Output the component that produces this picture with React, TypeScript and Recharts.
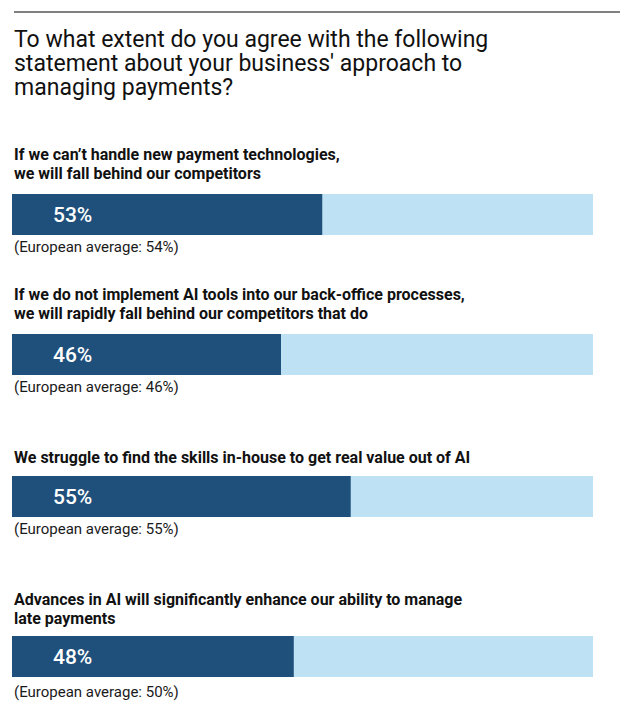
import React from "react";
import { BarChart, Bar, XAxis, YAxis, LabelList } from "recharts";

const titleLines = [
  "To what extent do you agree with the following",
  "statement about your business' approach to",
  "managing payments?",
];

const questions = [
  ["If we can\u2019t handle new payment technologies,", "we will fall behind our competitors"],
  ["If we do not implement AI tools into our back-office processes,", "we will rapidly fall behind our competitors that do"],
  ["We struggle to find the skills in-house to get real value out of AI"],
  ["Advances in AI will significantly enhance our ability to manage", "late payments"],
];

// bar lengths as drawn in the picture
const barValues = [53.4, 46.3, 58.3, 48.5];
const valueLabels = ["53%", "46%", "55%", "48%"];
const europeanAverages = ["54%", "46%", "55%", "50%"];

const DARK = "#1f507c";
const LIGHT = "#bfe1f4";
const FONT = "Roboto, 'Noto Sans', sans-serif";

// layout positions
const qTops = [145, 285, 448, 590];
const barTops = [194, 334, 476, 636];
const avgTops = [238, 378, 520, 683];
const BAR_H = 41;
const BAR_LEFT = 12;
const BAR_W = 581;

function Row({ i }: { i: number }) {
  const data = [{ name: "q" + i, value: barValues[i], label: valueLabels[i] }];
  return (
    <div style={{ position: "absolute", left: BAR_LEFT, top: barTops[i], width: BAR_W, height: BAR_H }}>
      <BarChart
        width={BAR_W}
        height={BAR_H}
        data={data}
        layout="vertical"
        margin={{ top: 0, right: 0, bottom: 0, left: 0 }}
        barCategoryGap={0}
      >
        <XAxis type="number" domain={[0, 100]} hide />
        <YAxis type="category" dataKey="name" hide />
        <Bar
          dataKey="value"
          fill={DARK}
          background={{ fill: LIGHT }}
          isAnimationActive={false}
        >
          <LabelList
            dataKey="label"
            position="insideLeft"
            offset={41}
            fill="#ffffff"
            style={{ fontSize: 21, fontFamily: FONT, fontWeight: 500 }}
          />
        </Bar>
      </BarChart>
    </div>
  );
}

function Lines({ lines }: { lines: string[] }) {
  return (
    <>
      {lines.map((l, k) => (
        <React.Fragment key={k}>
          {k > 0 && <br />}
          {l}
        </React.Fragment>
      ))}
    </>
  );
}

export default function App() {
  return (
    <div
      style={{
        position: "absolute",
        left: 0,
        top: 0,
        width: 634,
        height: 717,
        background: "#ffffff",
        fontFamily: FONT,
        color: "#111111",
      }}
    >
      <div style={{ position: "absolute", left: 14, top: 11, width: 606, height: 2, background: "#808080" }} />
      <div style={{ position: "absolute", left: 14, top: 28, fontSize: 23, lineHeight: "24px", whiteSpace: "nowrap" }}>
        <Lines lines={titleLines} />
      </div>
      {questions.map((lines, i) => (
        <React.Fragment key={i}>
          <div
            style={{
              position: "absolute",
              left: 14,
              top: qTops[i],
              fontSize: 16,
              fontWeight: 700,
              lineHeight: "19px",
              whiteSpace: "nowrap",
            }}
          >
            <Lines lines={lines} />
          </div>
          <Row i={i} />
          <div
            style={{
              position: "absolute",
              left: 14,
              top: avgTops[i],
              fontSize: 15,
              lineHeight: "18px",
              color: "#1a1a1a",
              whiteSpace: "nowrap",
            }}
          >
            (European average: {europeanAverages[i]})
          </div>
        </React.Fragment>
      ))}
    </div>
  );
}
